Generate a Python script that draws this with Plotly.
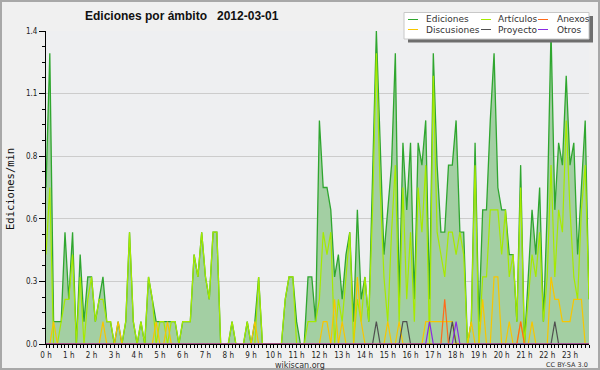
import plotly.graph_objects as go

# ---------------- data ----------------
slots = list(range(144))                      # 10-minute slots of the day
hour_ticks = list(range(0, 144, 6))
hour_labels = [f"{h} h" for h in range(24)]
y_tickvals = [0, 0.28, 0.56, 0.84, 1.12, 1.4]
y_ticktext = ["0.0", "0.3", "0.6", "0.8", "1.1", "1.4"]

ediciones = [
    0.7, 1.3, 0.1, 0.1, 0.1, 0.5, 0.2, 0.5, 0.0, 0.4, 0.1, 0.3,
    0.3, 0.1, 0.2, 0.3, 0.1, 0.1, 0.0, 0.1, 0.0, 0.1, 0.5, 0.1,
    0.0, 0.1, 0.0, 0.3, 0.2, 0.1, 0.1, 0.1, 0.1, 0.1, 0.1, 0.0,
    0.1, 0.1, 0.1, 0.4, 0.3, 0.5, 0.3, 0.2, 0.5, 0.5, 0.0, 0.0,
    0.0, 0.1, 0.0, 0.0, 0.0, 0.1, 0.0, 0.1, 0.3, 0.0, 0.0, 0.0,
    0.0, 0.0, 0.0, 0.2, 0.3, 0.3, 0.1, 0.0, 0.0, 0.3, 0.3, 0.1,
    1.0, 0.7, 0.7, 0.6, 0.3, 0.4, 0.2, 0.4, 0.5, 0.1, 0.6, 0.2,
    0.3, 0.1, 0.7, 1.4, 0.9, 0.4, 0.6, 0.8, 1.3, 0.2, 0.9, 0.6,
    0.9, 0.2, 0.9, 0.8, 1.0, 0.2, 1.3, 0.8, 0.5, 0.5, 0.8, 0.8,
    1.0, 0.5, 0.5, 0.0, 0.1, 0.9, 0.1, 0.6, 0.6, 1.0, 1.3, 0.7,
    0.6, 0.6, 0.4, 0.4, 0.1, 0.8, 0.0, 0.3, 0.6, 0.4, 0.7, 0.1,
    0.6, 1.4, 0.6, 0.9, 0.8, 1.2, 0.8, 0.9, 0.4, 0.7, 1.0, 0.2,
]

articulos = [
    0.4, 0.7, 0.0, 0.0, 0.1, 0.2, 0.2, 0.4, 0.0, 0.3, 0.0, 0.2,
    0.3, 0.1, 0.2, 0.2, 0.1, 0.1, 0.0, 0.0, 0.0, 0.1, 0.5, 0.1,
    0.0, 0.1, 0.0, 0.3, 0.2, 0.0, 0.1, 0.1, 0.0, 0.1, 0.1, 0.0,
    0.1, 0.1, 0.1, 0.4, 0.3, 0.5, 0.3, 0.2, 0.5, 0.5, 0.0, 0.0,
    0.0, 0.1, 0.0, 0.0, 0.0, 0.1, 0.0, 0.0, 0.3, 0.0, 0.0, 0.0,
    0.0, 0.0, 0.0, 0.2, 0.3, 0.3, 0.0, 0.0, 0.0, 0.1, 0.1, 0.1,
    0.2, 0.5, 0.4, 0.5, 0.0, 0.2, 0.1, 0.3, 0.5, 0.0, 0.2, 0.1,
    0.3, 0.1, 0.6, 1.3, 0.7, 0.3, 0.1, 0.5, 0.8, 0.1, 0.7, 0.2,
    0.5, 0.1, 0.7, 0.5, 0.8, 0.0, 1.2, 0.5, 0.4, 0.3, 0.5, 0.5,
    0.4, 0.5, 0.4, 0.0, 0.1, 0.8, 0.0, 0.3, 0.3, 0.6, 0.6, 0.6,
    0.4, 0.6, 0.3, 0.4, 0.1, 0.7, 0.0, 0.2, 0.4, 0.3, 0.5, 0.1,
    0.3, 0.8, 0.3, 0.6, 0.5, 1.0, 0.6, 0.3, 0.2, 0.6, 0.8, 0.2,
]

discusiones = [
    0.0, 0.0, 0.1, 0.0, 0.0, 0.0, 0.0, 0.0, 0.0, 0.0, 0.0, 0.0,
    0.0, 0.0, 0.0, 0.1, 0.0, 0.0, 0.0, 0.1, 0.0, 0.0, 0.0, 0.0,
    0.0, 0.0, 0.0, 0.0, 0.0, 0.1, 0.0, 0.0, 0.1, 0.0, 0.0, 0.0,
    0.0, 0.0, 0.0, 0.0, 0.0, 0.0, 0.0, 0.0, 0.0, 0.0, 0.0, 0.0,
    0.0, 0.0, 0.0, 0.0, 0.0, 0.0, 0.0, 0.1, 0.0, 0.0, 0.0, 0.0,
    0.0, 0.0, 0.0, 0.0, 0.0, 0.0, 0.0, 0.0, 0.0, 0.0, 0.0, 0.0,
    0.0, 0.1, 0.1, 0.0, 0.2, 0.0, 0.1, 0.0, 0.0, 0.0, 0.3, 0.1,
    0.0, 0.0, 0.0, 0.0, 0.0, 0.0, 0.1, 0.0, 0.0, 0.1, 0.0, 0.0,
    0.0, 0.0, 0.0, 0.0, 0.1, 0.1, 0.1, 0.1, 0.1, 0.1, 0.1, 0.1,
    0.0, 0.0, 0.0, 0.0, 0.1, 0.0, 0.0, 0.2, 0.0, 0.0, 0.3, 0.3,
    0.0, 0.0, 0.1, 0.0, 0.0, 0.1, 0.0, 0.0, 0.1, 0.0, 0.0, 0.0,
    0.0, 0.3, 0.2, 0.2, 0.1, 0.1, 0.1, 0.2, 0.2, 0.2, 0.0, 0.0,
]

proyecto = [0.0] * 87 + [0.1] + [0.0] * 6 + [0.1, 0.1] + [0.0] * 11 + [0.1] + [0.0] * 26 + [0.1] + [0.0] * 9
anexos = [0.0] * 105 + [0.2] + [0.0] * 19 + [0.1] + [0.0] * 18
otros = [0.0] * 101 + [0.1] + [0.0] * 6 + [0.1] + [0.0] * 35

series = [
    ("Ediciones", ediciones, "#2fa62f"),
    ("Artículos", articulos, "#a6ea00"),
    ("Discusiones", discusiones, "#f7c600"),
    ("Proyecto", proyecto, "#505050"),
    ("Anexos", anexos, "#ff6a1a"),
    ("Otros", otros, "#8a2be2"),
]

# ---------------- figure ----------------
L, R, T, B = 46, 11, 31, 26
W, H = 600, 370
PW, PH = W - L - R, H - T - B


def px(xp):
    return (xp - L) / PW


def py(yp):
    return (H - B - yp) / PH


fig = go.Figure()
for k, (name, vals, col) in enumerate(series):
    kw = dict(x=slots, y=vals, mode="lines", name=name,
              line=dict(color=col, width=1.3 if k == 0 else 1.2),
              showlegend=False, hoverinfo="skip")
    if k == 0:
        kw.update(fill="tozeroy", fillcolor="#a3cfa3")
    fig.add_trace(go.Scatter(**kw))

tick_font = dict(family="DejaVu Sans Condensed, DejaVu Sans, sans-serif", size=8, color="#222")

fig.update_layout(
    width=W, height=H,
    margin=dict(l=L, r=R, t=T, b=B),
    paper_bgcolor="#f0f0f0",
    plot_bgcolor="#eeeff1",
    title=dict(text="Ediciones por ámbito\u00a0\u00a0 2012-03-01",
               x=85 / W, xanchor="left", xref="container",
               y=1 - 16 / H, yanchor="middle", yref="container",
               font=dict(family="Liberation Sans, Arial, sans-serif", size=12,
                         color="#111", weight="bold")),
    xaxis=dict(range=[0, 143], tickmode="array", tickvals=hour_ticks, ticktext=hour_labels,
               ticks="outside", ticklen=3, tickcolor="#000", tickwidth=1,
               showline=True, linecolor="#000", linewidth=1,
               showgrid=False, zeroline=False, tickfont=tick_font,
               minor=dict(tickmode="linear", tick0=0, dtick=1, ticks="outside",
                          ticklen=3, tickcolor="#000", showgrid=False)),
    yaxis=dict(range=[0, 1.4], tickmode="array", tickvals=y_tickvals, ticktext=y_ticktext,
               ticks="outside", ticklen=6, tickcolor="#000", tickwidth=1,
               showline=True, linecolor="#000", linewidth=1,
               showgrid=True, gridcolor="#cccccc", gridwidth=1,
               zeroline=False, tickfont=tick_font,
               minor=dict(tickmode="linear", tick0=0, dtick=0.07, ticks="outside",
                          ticklen=3, tickcolor="#000", showgrid=False)),
)

shapes = []
annotations = []
# outer frame
shapes.append(dict(type="rect", xref="paper", yref="paper",
                   x0=px(1), x1=px(W - 1), y0=py(H - 1), y1=py(1),
                   line=dict(color="#a8a8a8", width=2), fillcolor="rgba(0,0,0,0)", layer="above"))
# legend shadow + box
shapes.append(dict(type="rect", xref="paper", yref="paper",
                   x0=px(408), x1=px(593), y0=py(42.5), y1=py(16),
                   line=dict(width=0), fillcolor="#6e6e6e", layer="above"))
shapes.append(dict(type="rect", xref="paper", yref="paper",
                   x0=px(404), x1=px(589), y0=py(39), y1=py(12.5),
                   line=dict(color="#c8c8c8", width=1), fillcolor="#ffffff", layer="above"))

legend_layout = [  # (series index, line x0, text x, row y)
    (0, 408, 424, 19.5), (1, 481, 496, 19.5), (4, 538, 555, 19.5),
    (2, 408, 424, 29.5), (3, 481, 496, 29.5), (5, 538, 555, 29.5),
]
leg_font = dict(family="DejaVu Sans, sans-serif", size=9, color="#333")
for idx, lx, tx, ry in legend_layout:
    name, _, col = series[idx]
    shapes.append(dict(type="line", xref="paper", yref="paper",
                       x0=px(lx), x1=px(lx + 10), y0=py(ry), y1=py(ry),
                       line=dict(color=col, width=1), layer="above"))
    annotations.append(dict(text=name, xref="paper", yref="paper", x=px(tx), y=py(ry),
                            xanchor="left", yanchor="middle", showarrow=False, font=leg_font))

annotations.append(dict(text="Ediciones/min", xref="paper", yref="paper",
                        x=px(10), y=py(189), textangle=-90, showarrow=False,
                        xanchor="center", yanchor="middle",
                        font=dict(family="DejaVu Sans Mono, monospace", size=10.5, color="#111")))
annotations.append(dict(text="wikiscan.org", xref="paper", yref="paper",
                        x=px(300), y=py(365), showarrow=False, xanchor="center", yanchor="middle",
                        font=dict(family="DejaVu Sans, sans-serif", size=8, color="#333")))
annotations.append(dict(text="CC BY-SA 3.0", xref="paper", yref="paper",
                        x=px(590), y=py(365), showarrow=False, xanchor="right", yanchor="middle",
                        font=dict(family="DejaVu Sans, sans-serif", size=6.5, color="#333")))

fig.update_layout(shapes=shapes, annotations=annotations)
fig.write_html("out.html", config={"displayModeBar": False, "staticPlot": True},
               post_script="document.body.style.margin='0';document.body.style.overflow='hidden';")
